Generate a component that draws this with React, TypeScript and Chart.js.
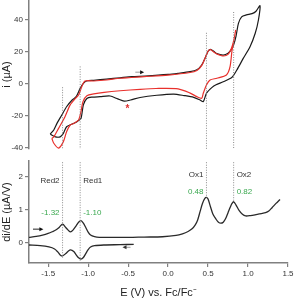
import React, { useEffect, useRef } from "react";
import { Chart, registerables } from "chart.js";
Chart.register(...registerables);

const FONT = "'Liberation Sans', Arial, sans-serif";

// shared potential axis
const xMin = -1.74;
const xMax = 1.5;
const xTicks = [-1.5, -1.0, -0.5, 0.0, 0.5, 1.0, 1.5];
const cvTicks = [-40, -20, 0, 20, 40];
const dTicks = [0, 1, 2];

// CV, black trace (E / V, i / uA)
const blackE = [-1.475, -1.43, -1.39, -1.33, -1.27, -1.2, -1.15, -1.1, -1.06, -1.02, -0.93, -0.77, -0.6, -0.45, -0.29, 0.0, 0.125, 0.275, 0.36, 0.42, 0.47, 0.5, 0.53, 0.57, 0.61, 0.69, 0.75, 0.79, 0.82, 0.85, 0.88, 0.92, 0.98, 1.05, 1.1, 1.15,
  1.13, 1.09, 1.025, 0.94, 0.86, 0.8, 0.69, 0.6, 0.55, 0.48, 0.44, 0.4, 0.32, 0.2, 0.07, -0.14, -0.35, -0.47, -0.55, -0.63, -0.725, -0.85, -0.95, -1.016, -1.06, -1.09, -1.14, -1.2, -1.27, -1.31, -1.35, -1.41, -1.475];
const blackI = [-31.3, -28.7, -24.6, -19.4, -14.2, -10, -7.9, -2.7, 0.4, 1.9, 2.3, 3.1, 3.9, 4.6, 5.0, 6.0, 6.7, 7.7, 8.9, 11.9, 17, 20.5, 21.7, 20.5, 19.0, 18.1, 19.2, 21.5, 24.5, 30, 37.9, 42, 43.2, 44, 45.5, 49,
  40, 31.7, 23.3, 16, 8.75, 4.2, 1.4, -0.5, -2.1, -5.8, -11, -10, -8.3, -7.2, -6.3, -7, -8.4, -10, -10.7, -9.3, -7.5, -7.9, -8.2, -9, -13, -21.5, -23.5, -25, -26.7, -30.8, -33, -33, -31.3];

// CV, red trace
const redE = [-1.454, -1.43, -1.37, -1.29, -1.225, -1.16, -1.12, -1.08, -1.04, -0.93, -0.77, -0.6, -0.3, 0.0, 0.275, 0.36, 0.42, 0.47, 0.5, 0.53, 0.57, 0.61, 0.69, 0.75, 0.79, 0.82, 0.845,
  0.8, 0.775, 0.73, 0.61, 0.525, 0.48, 0.44, 0.42, 0.36, 0.27, 0.125, -0.15, -0.35, -0.6, -0.8, -0.93, -1.016, -1.065, -1.09, -1.12, -1.18, -1.225, -1.27, -1.31, -1.37, -1.43, -1.454];
const redI = [-34, -33, -27.7, -20.4, -13, -9, -6.9, -1.7, 1.9, 1.9, 2.5, 3.6, 4.6, 5.6, 7.2, 8.5, 11.5, 17, 20.5, 21.5, 20, 18.8, 17.5, 18.5, 22, 27, 33.5,
  21, 10.8, 5.6, 3.6, 2.5, -0.6, -5.8, -8.9, -7.9, -5.5, -3, -2.8, -3.3, -4.2, -5.2, -6.2, -7.3, -11, -17.3, -22.5, -24.6, -25.6, -29.8, -36, -40, -37, -34];

// dI/dE, forward sweep
const fwdE = [-1.74, -1.65, -1.57, -1.5, -1.45, -1.4, -1.36, -1.32, -1.28, -1.25, -1.22, -1.19, -1.15, -1.12, -1.09, -1.06, -1.03, -1.0, -0.97, -0.92, -0.86, -0.7, -0.49, -0.3, -0.07, 0.1, 0.18, 0.25, 0.3, 0.34, 0.37, 0.4, 0.43, 0.46, 0.48, 0.5, 0.53, 0.56, 0.6, 0.63, 0.66, 0.69, 0.72, 0.75, 0.78, 0.8, 0.82, 0.85, 0.89, 0.93, 0.97, 1.03, 1.1, 1.16, 1.22, 1.26, 1.3, 1.35, 1.4];
const fwdD = [0.17, 0.2, 0.24, 0.29, 0.34, 0.4, 0.48, 0.57, 0.47, 0.39, 0.34, 0.39, 0.52, 0.63, 0.68, 0.6, 0.47, 0.33, 0.24, 0.19, 0.17, 0.17, 0.17, 0.18, 0.19, 0.23, 0.28, 0.35, 0.43, 0.55, 0.7, 0.95, 1.2, 1.35, 1.38, 1.33, 1.1, 0.88, 0.72, 0.63, 0.6, 0.63, 0.74, 0.92, 1.1, 1.2, 1.25, 1.15, 0.98, 0.87, 0.82, 0.83, 0.86, 0.89, 0.92, 0.97, 1.07, 1.2, 1.32];

// dI/dE, reverse sweep
const revE = [-0.43, -0.6, -0.8, -0.92, -0.97, -1.0, -1.03, -1.06, -1.09, -1.12, -1.15, -1.18, -1.22, -1.25, -1.28, -1.32, -1.35, -1.38, -1.42, -1.49, -1.6, -1.74];
const revD = [-0.04, -0.05, -0.06, -0.08, -0.12, -0.2, -0.32, -0.44, -0.49, -0.45, -0.36, -0.26, -0.21, -0.25, -0.32, -0.39, -0.36, -0.27, -0.18, -0.12, -0.08, -0.06];

// peaks
const peakNames = ["Red2", "Red1", "Ox1", "Ox2"];
const peakE = [-1.32, -1.1, 0.48, 0.82];
const peakText = ["-1.32", "-1.10", "0.48", "0.82"];
const peakSide = [-1, 1, -1, 1];
const cvGuideTop = [-2, 11, 32, 45];
const dGuideEnd = [-0.45, -0.55, 1.38, 1.25];
const nameLevel = [1.88, 1.88, 2.06, 2.06];
const valueLevel = [0.91, 0.91, 1.55, 1.55];

const pts = (xs: number[], ys: number[]) => xs.map((x, i) => ({ x, y: ys[i] }));

const guide = (e: number, y0: number, y1: number) => ({
  data: [{ x: e, y: y0 }, { x: e, y: y1 }],
  showLine: true,
  borderColor: "#8a8a8a",
  borderWidth: 1,
  borderDash: [1, 1.5],
  pointRadius: 0,
  tension: 0,
});

function arrow(ctx: CanvasRenderingContext2D, x1: number, y: number, x2: number, shaft: string, head: string) {
  const dir = Math.sign(x2 - x1);
  ctx.strokeStyle = shaft;
  ctx.lineWidth = 1;
  ctx.beginPath();
  ctx.moveTo(x1, y);
  ctx.lineTo(x2 - dir * 3, y);
  ctx.stroke();
  ctx.fillStyle = head;
  ctx.beginPath();
  ctx.moveTo(x2, y);
  ctx.lineTo(x2 - dir * 4, y - 2);
  ctx.lineTo(x2 - dir * 4, y + 2);
  ctx.closePath();
  ctx.fill();
}

const yAxisBase = (title: string, ticks: number[], min: number, max: number) => ({
  type: "linear" as const,
  min,
  max,
  afterBuildTicks: (s: any) => {
    s.ticks = ticks.map((v) => ({ value: v }));
  },
  afterFit: (s: any) => {
    s.width = 29;
    s.paddingTop = 0;
    s.paddingBottom = 0;
  },
  ticks: { font: { family: FONT, size: 8 }, color: "#333", padding: 2 },
  grid: { drawOnChartArea: false, drawTicks: true, tickLength: 4, color: "#808080", lineWidth: 1.2 },
  border: { display: true, color: "#808080", width: 1.5 },
  title: { display: true, text: title, font: { family: FONT, size: 11 }, color: "#222", padding: 0 },
});

export default function App() {
  const topRef = useRef<HTMLCanvasElement>(null);
  const botRef = useRef<HTMLCanvasElement>(null);

  useEffect(() => {
    const topAnnot = {
      id: "topAnnot",
      afterDatasetsDraw(chart: any) {
        const { ctx } = chart;
        const X = (v: number) => chart.scales.x.getPixelForValue(v);
        const Y = (v: number) => chart.scales.y.getPixelForValue(v);
        ctx.save();
        arrow(ctx, X(-0.41), Y(7.4), X(-0.3), "#999", "#111");
        ctx.fillStyle = "#e03030";
        ctx.font = `bold 10px ${FONT}`;
        ctx.textAlign = "center";
        ctx.textBaseline = "middle";
        ctx.fillText("*", X(-0.51), Y(-15.5));
        ctx.restore();
      },
    };

    const botAnnot = {
      id: "botAnnot",
      afterDatasetsDraw(chart: any) {
        const { ctx } = chart;
        const X = (v: number) => chart.scales.x.getPixelForValue(v);
        const Y = (v: number) => chart.scales.y.getPixelForValue(v);
        ctx.save();
        ctx.textBaseline = "middle";
        peakNames.forEach((n, i) => {
          const side = peakSide[i];
          ctx.textAlign = side < 0 ? "right" : "left";
          ctx.font = `8px ${FONT}`;
          ctx.fillStyle = "#333";
          ctx.fillText(n, X(peakE[i]) + side * 3, Y(nameLevel[i]));
          ctx.fillStyle = "#3aa84f";
          ctx.fillText(peakText[i], X(peakE[i]) + side * 3, Y(valueLevel[i]));
        });
        arrow(ctx, X(-1.69), Y(0.42), X(-1.56), "#222", "#111");
        arrow(ctx, X(-0.47), Y(-0.13), X(-0.57), "#999", "#333");
        ctx.restore();
      },
    };

    const topChart = new Chart(topRef.current!, {
      type: "scatter",
      data: {
        datasets: [
          ...peakE.map((e, i) => guide(e, cvGuideTop[i], -45)),
          { data: pts(redE, redI), showLine: true, borderColor: "#e8302c", borderWidth: 1.2, pointRadius: 0, tension: 0.25 },
          { data: pts(blackE, blackI), showLine: true, borderColor: "#1a1a1a", borderWidth: 1.2, pointRadius: 0, tension: 0.25 },
        ] as any,
      },
      options: {
        responsive: false,
        animation: false,
        devicePixelRatio: 1,
        layout: { padding: { left: 0, right: 7, top: 0, bottom: 1 } },
        plugins: { legend: { display: false }, tooltip: { enabled: false } },
        scales: {
          x: { type: "linear", min: xMin, max: xMax, display: false },
          y: yAxisBase("i (µA)", cvTicks, -40.6, 52.5) as any,
        },
      },
      plugins: [topAnnot],
    });

    const botChart = new Chart(botRef.current!, {
      type: "scatter",
      data: {
        datasets: [
          ...peakE.map((e, i) => guide(e, 2.6, dGuideEnd[i])),
          { data: pts(fwdE, fwdD), showLine: true, borderColor: "#2a2a2a", borderWidth: 1.3, pointRadius: 0, tension: 0.3 },
          { data: pts(revE, revD), showLine: true, borderColor: "#2a2a2a", borderWidth: 1.3, pointRadius: 0, tension: 0.3 },
        ] as any,
      },
      options: {
        responsive: false,
        animation: false,
        devicePixelRatio: 1,
        layout: { padding: { left: 0, right: 7, top: 11, bottom: 0 } },
        plugins: { legend: { display: false }, tooltip: { enabled: false } },
        scales: {
          x: {
            type: "linear",
            min: xMin,
            max: xMax,
            afterBuildTicks: (s: any) => {
              s.ticks = xTicks.map((v) => ({ value: v }));
            },
            afterFit: (s: any) => {
              s.height = 37;
              s.paddingLeft = 0;
              s.paddingRight = 0;
            },
            ticks: { font: { family: FONT, size: 8 }, color: "#333", padding: 2, maxRotation: 0, callback: (v: any) => Number(v).toFixed(1) },
            grid: { drawOnChartArea: false, drawTicks: true, tickLength: 4, color: "#808080", lineWidth: 1.2 },
            border: { display: true, color: "#808080", width: 1.5 },
            title: { display: true, text: "E (V) vs. Fc/Fc⁻", font: { family: FONT, size: 11 }, color: "#222", padding: 0 },
          },
          y: yAxisBase("di/dE (µA/V)", dTicks, -0.606, 2.485) as any,
        },
      },
      plugins: [botAnnot],
    });

    return () => {
      topChart.destroy();
      botChart.destroy();
    };
  }, []);

  return (
    <div style={{ position: "absolute", left: 0, top: 0, width: 295, height: 300, background: "#fff" }}>
      <canvas ref={topRef} width={295} height={150} style={{ position: "absolute", left: 0, top: 0 }} />
      <canvas ref={botRef} width={295} height={150} style={{ position: "absolute", left: 0, top: 150 }} />
    </div>
  );
}
